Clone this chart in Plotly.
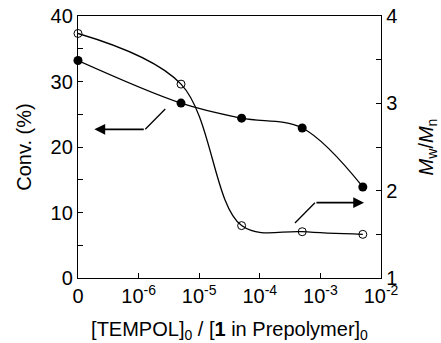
import plotly.graph_objects as go

# positions on a log10 scale; "0" is drawn at the 1e-7 position
x_pos = [-7, -5.3, -4.3, -3.3, -2.3]
conv = [33.2, 26.7, 24.4, 22.9, 13.9]
mwmn = [3.80, 3.22, 1.60, 1.53, 1.50]
x_tickvals = [-7, -6, -5, -4, -3, -2]
x_ticktext = ["0", "10<sup>-6</sup>", "10<sup>-5</sup>", "10<sup>-4</sup>", "10<sup>-3</sup>", "10<sup>-2</sup>"]

FONT = "Liberation Sans, Arial, sans-serif"

fig = go.Figure()
fig.add_trace(go.Scatter(
    x=x_pos, y=conv, mode="lines+markers", line=dict(color="black", width=1.3, shape="spline", smoothing=1.0),
    marker=dict(symbol="circle", size=9, color="black"), yaxis="y", cliponaxis=False, showlegend=False))
fig.add_trace(go.Scatter(
    x=x_pos, y=mwmn, mode="lines+markers", line=dict(color="black", width=1.3, shape="spline", smoothing=1.0),
    marker=dict(symbol="circle-open", size=8, color="black", line=dict(width=1)), yaxis="y2", cliponaxis=False, showlegend=False))

# arrows
fig.add_shape(type="line", x0=-5.56, y0=25.8, x1=-5.89, y1=22.7, xref="x", yref="y", line=dict(color="black", width=1.3))
fig.add_annotation(x=-6.73, y=22.7, ax=-5.89, ay=22.7, xref="x", yref="y", axref="x", ayref="y",
                   showarrow=True, arrowhead=2, arrowsize=1.2, arrowwidth=1.8, arrowcolor="black", text="")
fig.add_shape(type="line", x0=-3.42, y0=8.4, x1=-3.09, y1=11.5, xref="x", yref="y", line=dict(color="black", width=1.3))
fig.add_annotation(x=-2.28, y=11.5, ax=-3.09, ay=11.5, xref="x", yref="y", axref="x", ayref="y",
                   showarrow=True, arrowhead=2, arrowsize=1.2, arrowwidth=1.8, arrowcolor="black", text="")

axis_common = dict(showline=True, linecolor="black", linewidth=1.3, ticks="inside", tickcolor="black",
                   ticklen=5, tickwidth=1, showgrid=False, zeroline=False, automargin=False,
                   tickfont=dict(family=FONT, size=20, color="black"))

fig.update_layout(
    width=441, height=343,
    margin=dict(l=78, r=60, t=16, b=65),
    paper_bgcolor="white", plot_bgcolor="white",
    xaxis=dict(range=[-7, -2], tickvals=x_tickvals, ticktext=x_ticktext, mirror=True,
               title=dict(text="[TEMPOL]<sub>0</sub> / [<b>1</b> in Prepolymer]<sub>0</sub>",
                          font=dict(family=FONT, size=20, color="black"), standoff=20),
               **axis_common),
    yaxis=dict(range=[0, 40], tickvals=[0, 10, 20, 30, 40],
               minor=dict(tickvals=[5, 15, 25, 35], ticks="inside", ticklen=5, tickcolor="black"),
               title=dict(text="Conv. (%)", font=dict(family=FONT, size=20, color="black"), standoff=13),
               **axis_common),
    yaxis2=dict(range=[1, 4], tickvals=[1, 2, 3, 4], overlaying="y", side="right",
                minor=dict(tickvals=[1.5, 2.5, 3.5], ticks="inside", ticklen=5, tickcolor="black"),
                title=dict(text="<i>M</i><sub>w</sub>/<i>M</i><sub>n</sub>", font=dict(family=FONT, size=20, color="black"), standoff=22),
                **axis_common),
)

fig.write_html("out.html")
